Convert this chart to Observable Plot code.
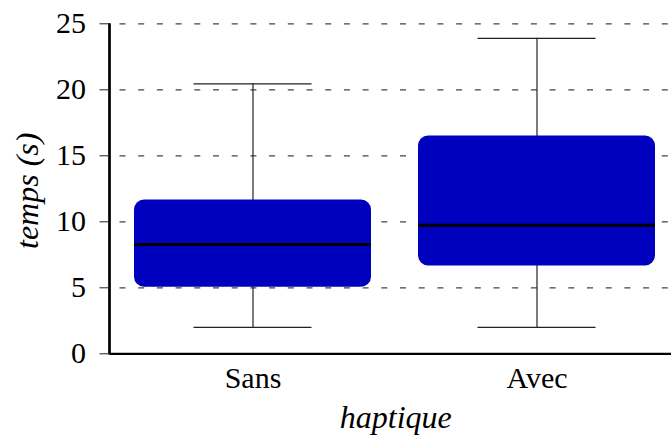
<!DOCTYPE html>
<html>
<head>
<meta charset="utf-8">
<script src="https://cdn.jsdelivr.net/npm/d3@7"></script>
<script src="https://cdn.jsdelivr.net/npm/@observablehq/plot@0.6"></script>
<style>
  html, body { margin: 0; padding: 0; background: white; overflow: hidden; }
</style>
</head>
<body>
<div id="chart"></div>
<script>
const categories = ["Sans", "Avec"];
const whiskerLow = [2.0, 2.0];
const q1 = [5.05, 6.65];
const median = [8.28, 9.74];
const q3 = [11.65, 16.5];
const whiskerHigh = [20.45, 23.9];
const yTicks = [0, 5, 10, 15, 20, 25];
const xTitle = "haptique";
const yTitle = "temps (s)";

const data = categories.map((c, i) => ({
  haptique: c, low: whiskerLow[i], q1: q1[i], median: median[i], q3: q3[i], high: whiskerHigh[i]
}));

const W = 671, H = 436;
const mL = 109.5, mT = 23.3, mB = 82.7;

const yAxisLine = (index, scales, values, dimensions) => {
  const line = d3.create("svg:line")
    .attr("x1", dimensions.marginLeft).attr("x2", dimensions.marginLeft)
    .attr("y1", dimensions.marginTop)
    .attr("y2", dimensions.height - dimensions.marginBottom + 1.2)
    .attr("stroke", "black").attr("stroke-width", 2.7);
  return line.node();
};

const chart = Plot.plot({
  width: W, height: H,
  marginLeft: mL, marginRight: 0, marginTop: mT, marginBottom: mB,
  style: { fontFamily: "'Liberation Serif', serif", fontSize: "30px", background: "white", color: "black" },
  x: { type: "band", domain: categories, range: [mL, mL + 570], paddingInner: 0.165, paddingOuter: 0.083, axis: null },
  y: { domain: [0, 25], axis: null },
  marks: [
    Plot.ruleY(yTicks.filter(t => t > 0), { stroke: "#444", strokeWidth: 1.2, strokeDasharray: "6,12.7", strokeDashoffset: 8.7 }),
    Plot.ruleX(data, { x: "haptique", y1: "low", y2: "high", stroke: "#222", strokeWidth: 1.2 }),
    Plot.tickY(data, { x: "haptique", y: "low", insetLeft: 59.5, insetRight: 59.5, stroke: "#222", strokeWidth: 1.3 }),
    Plot.tickY(data, { x: "haptique", y: "high", insetLeft: 59.5, insetRight: 59.5, stroke: "#222", strokeWidth: 1.3 }),
    Plot.barY(data, { x: "haptique", y1: "q1", y2: "q3", fill: "#0000bf", rx: 10 }),
    Plot.tickY(data, { x: "haptique", y: "median", stroke: "black", strokeWidth: 3 }),
    Plot.ruleY([0], { stroke: "black", strokeWidth: 2.3 }),
    yAxisLine,
    Plot.axisY({ ticks: yTicks, tickSize: 10, tickPadding: 14, fontSize: 30, tickFormat: d => d, label: null, stroke: "#222", strokeWidth: 1 }),
    Plot.axisX({ tickSize: 0, tickPadding: 13, fontSize: 30, label: null }),
    Plot.text([xTitle], { frameAnchor: "bottom", textAnchor: "middle", lineAnchor: "middle", dx: 5, dy: 64, fontStyle: "italic", fontSize: 32, fill: "black" }),
    Plot.text([yTitle], { frameAnchor: "left", textAnchor: "middle", lineAnchor: "middle", rotate: -90, dx: -82, dy: 2, fontStyle: "italic", fontSize: 32, fill: "black" })
  ]
});
document.getElementById("chart").appendChild(chart);
</script>
</body>
</html>
